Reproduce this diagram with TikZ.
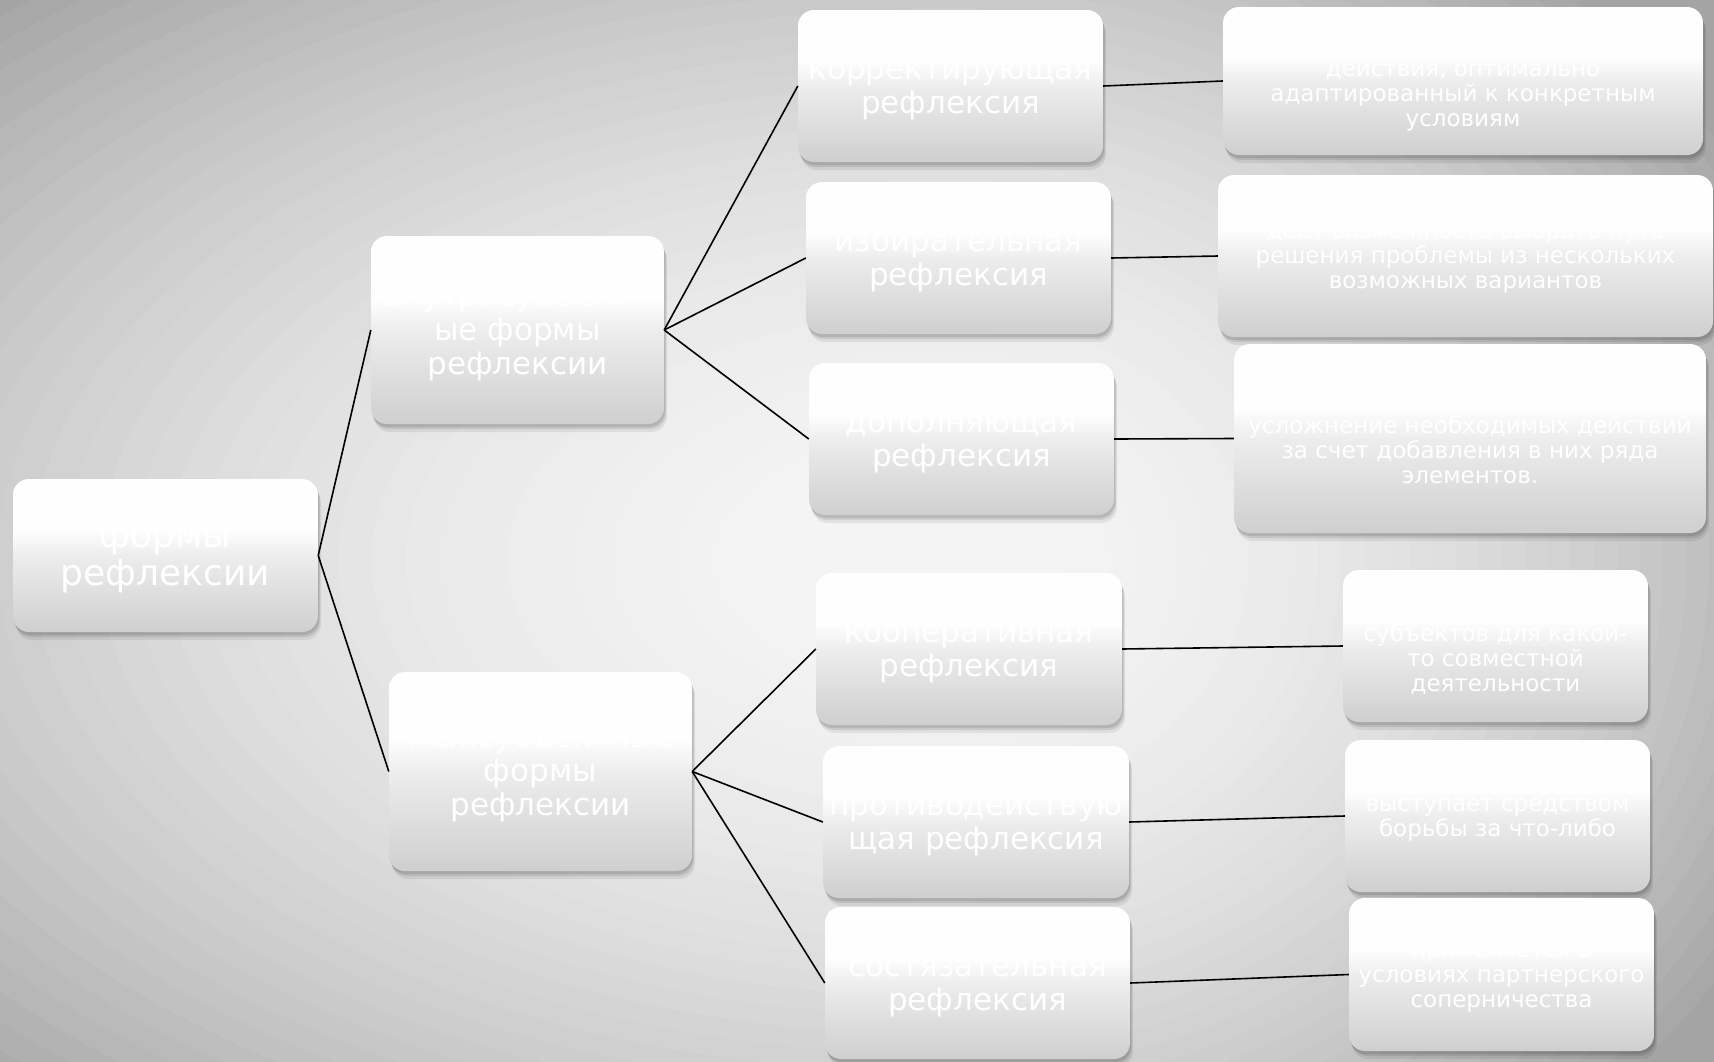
\documentclass[tikz,border=0pt]{standalone}
\usepackage{fontspec}
\setmainfont{DejaVu Sans}
\usetikzlibrary{shadows}
\definecolor{boxbot}{gray}{0.68}
\definecolor{boxlow}{gray}{0.75}
\definecolor{boxmid}{gray}{0.93}
\definecolor{boxtop}{gray}{0.995}
\pgfdeclareverticalshading{boxshade}{100bp}{color(0bp)=(boxbot); color(12bp)=(boxlow); color(50bp)=(boxmid); color(58bp)=(boxtop); color(100bp)=(white)}
\newcommand\lnstrut{\rule[-0.2\baselineskip]{0pt}{\baselineskip}}
\tikzset{
  softshadow/.style={
    general shadow={fill=black, opacity=0.10, shadow xshift=1pt, shadow yshift=-3pt},
    general shadow={fill=black, opacity=0.09, shadow xshift=2pt, shadow yshift=-5pt},
    general shadow={fill=black, opacity=0.07, shadow xshift=3pt, shadow yshift=-8pt}},
  box/.style={rectangle, rounded corners=16pt, shading=boxshade, text=white,
    align=center, inner sep=0pt, softshadow},
  big/.style={box, font=\fontsize{36}{38}\selectfont},
  mid/.style={box, font=\fontsize{31}{34}\selectfont},
  desc/.style={box, font=\fontsize{23}{25}\selectfont},
  conn/.style={draw=black, line width=1.6pt}
}
\begin{document}
\begin{tikzpicture}[x=1pt,y=-1pt]
\useasboundingbox (0,0) rectangle (1714,1061);
\begin{scope}
  \clip (0,0) rectangle (1714,1061);
  \fill[gray!60!white] (0,0) rectangle (1714,1061);
  \foreach \i in {0,...,60} {
    \pgfmathsetmacro\myR{1.5-\i*0.025}
    \pgfmathsetmacro\myG{max(0.645,min(0.955,0.96-0.30*\myR*\myR))}
    \definecolor{bgtmp}{gray}{\myG}
    \fill[bgtmp] (950,560) ++(0,\myR*760)
      arc[start angle=90, end angle=270, x radius=\myR*1360, y radius=\myR*760]
      arc[start angle=270, end angle=450, x radius=\myR*920, y radius=\myR*760] -- cycle;
  }
\end{scope}

\node[big, minimum width=305pt, minimum height=153pt] (root) at (165.5,555.5) {\lnstrut формы\\\lnstrut рефлексии};

\node[mid, minimum width=293pt, minimum height=188pt] (inner) at (517.5,330) {\lnstrut внутрисубъектн\\\lnstrut ые формы\\\lnstrut рефлексии};
\node[mid, minimum width=303pt, minimum height=199pt] (inter) at (540.5,771.5) {\lnstrut межсубъектные\\\lnstrut формы\\\lnstrut рефлексии};

\node[mid, minimum width=305pt, minimum height=152pt] (korr) at (950.5,86) {\lnstrut корректирующая\\\lnstrut рефлексия};
\node[mid, minimum width=305pt, minimum height=152pt] (izb) at (958.5,258) {\lnstrut избирательная\\\lnstrut рефлексия};
\node[mid, minimum width=305pt, minimum height=152pt] (dop) at (961.5,439) {\lnstrut дополняющая\\\lnstrut рефлексия};
\node[mid, minimum width=306pt, minimum height=152pt] (koop) at (969,649) {\lnstrut кооперативная\\\lnstrut рефлексия};
\node[mid, minimum width=306pt, minimum height=152pt] (prot) at (976,822) {\lnstrut противодействую\\\lnstrut щая рефлексия};
\node[mid, minimum width=305pt, minimum height=152pt] (sost) at (977.5,983) {\lnstrut состязательная\\\lnstrut рефлексия};

\node[desc, minimum width=480pt, minimum height=148pt] (d1) at (1463,81) {\lnstrut позволяет подобрать способ\\\lnstrut действия, оптимально\\\lnstrut адаптированный к конкретным\\\lnstrut условиям};
\node[desc, minimum width=495pt, minimum height=162pt] (d2) at (1465.5,256) {\lnstrut дает возможность выбрать путь\\\lnstrut решения проблемы из нескольких\\\lnstrut возможных вариантов};
\node[desc, minimum width=472pt, minimum height=189pt] (d3) at (1470,438.5) {\lnstrut делает доступным некоторое\\\lnstrut усложнение необходимых действий\\\lnstrut за счет добавления в них ряда\\\lnstrut элементов.};
\node[desc, minimum width=305pt, minimum height=152pt] (d4) at (1495.5,646) {\lnstrut объединяет отдельных\\\lnstrut субъектов для какой-\\\lnstrut то совместной\\\lnstrut деятельности};
\node[desc, minimum width=305pt, minimum height=152pt] (d5) at (1497.5,816) {\lnstrut выступает средством\\\lnstrut борьбы за что-либо};
\node[desc, minimum width=305pt, minimum height=153pt] (d6) at (1501.5,974.5) {\lnstrut применяется в\\\lnstrut условиях партнерского\\\lnstrut соперничества};

\draw[conn] (root.east) -- (inner.west);
\draw[conn] (root.east) -- (inter.west);
\draw[conn] (inner.east) -- (korr.west);
\draw[conn] (inner.east) -- (izb.west);
\draw[conn] (inner.east) -- (dop.west);
\draw[conn] (inter.east) -- (koop.west);
\draw[conn] (inter.east) -- (prot.west);
\draw[conn] (inter.east) -- (sost.west);
\draw[conn] (korr.east) -- (d1.west);
\draw[conn] (izb.east) -- (d2.west);
\draw[conn] (dop.east) -- (d3.west);
\draw[conn] (koop.east) -- (d4.west);
\draw[conn] (prot.east) -- (d5.west);
\draw[conn] (sost.east) -- (d6.west);
\end{tikzpicture}
\end{document}
